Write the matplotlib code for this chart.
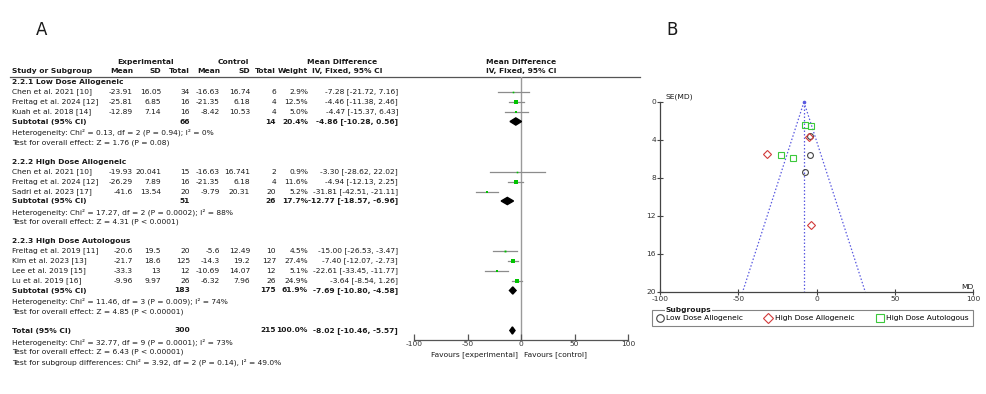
import numpy as np
import matplotlib
matplotlib.use("Agg")
import matplotlib.pyplot as plt

plt.rcParams["axes.unicode_minus"] = False

# ---- data ----
groups = ["2.2.1 Low Dose Allogeneic", "2.2.2 High Dose Allogeneic", "2.2.3 High Dose Autologous"]
studies = [
    ["Chen et al. 2021 [10]", "Freitag et al. 2024 [12]", "Kuah et al. 2018 [14]"],
    ["Chen et al. 2021 [10]", "Freitag et al. 2024 [12]", "Sadri et al. 2023 [17]"],
    ["Freitag et al. 2019 [11]", "Kim et al. 2023 [13]", "Lee et al. 2019 [15]", "Lu et al. 2019 [16]"],
]
exp_mean = [["-23.91", "-25.81", "-12.89"], ["-19.93", "-26.29", "-41.6"], ["-20.6", "-21.7", "-33.3", "-9.96"]]
exp_sd = [["16.05", "6.85", "7.14"], ["20.041", "7.89", "13.54"], ["19.5", "18.6", "13", "9.97"]]
exp_n = [[34, 16, 16], [15, 16, 20], [20, 125, 12, 26]]
ctl_mean = [["-16.63", "-21.35", "-8.42"], ["-16.63", "-21.35", "-9.79"], ["-5.6", "-14.3", "-10.69", "-6.32"]]
ctl_sd = [["16.74", "6.18", "10.53"], ["16.741", "6.18", "20.31"], ["12.49", "19.2", "14.07", "7.96"]]
ctl_n = [[6, 4, 4], [2, 4, 20], [10, 127, 12, 26]]
weight = [[2.9, 12.5, 5.0], [0.9, 11.6, 5.2], [4.5, 27.4, 5.1, 24.9]]
md = [[-7.28, -4.46, -4.47], [-3.30, -4.94, -31.81], [-15.00, -7.40, -22.61, -3.64]]
lo = [[-21.72, -11.38, -15.37], [-28.62, -12.13, -42.51], [-26.53, -12.07, -33.45, -8.54]]
hi = [[7.16, 2.46, 6.43], [22.02, 2.25, -21.11], [-3.47, -2.73, -11.77, 1.26]]

sub_exp_n = [66, 51, 183]
sub_ctl_n = [14, 26, 175]
sub_weight = [20.4, 17.7, 61.9]
sub_md = [-4.86, -12.77, -7.69]
sub_lo = [-10.28, -18.57, -10.80]
sub_hi = [0.56, -6.96, -4.58]
sub_het = ["Heterogeneity: Chi\u00b2 = 0.13, df = 2 (P = 0.94); I\u00b2 = 0%",
           "Heterogeneity: Chi\u00b2 = 17.27, df = 2 (P = 0.0002); I\u00b2 = 88%",
           "Heterogeneity: Chi\u00b2 = 11.46, df = 3 (P = 0.009); I\u00b2 = 74%"]
sub_z = ["Test for overall effect: Z = 1.76 (P = 0.08)",
         "Test for overall effect: Z = 4.31 (P < 0.0001)",
         "Test for overall effect: Z = 4.85 (P < 0.00001)"]

tot_exp_n, tot_ctl_n, tot_weight = 300, 215, 100.0
tot_md, tot_lo, tot_hi = -8.02, -10.46, -5.57
tot_lines = ["Heterogeneity: Chi\u00b2 = 32.77, df = 9 (P = 0.0001); I\u00b2 = 73%",
             "Test for overall effect: Z = 6.43 (P < 0.00001)",
             "Test for subgroup differences: Chi\u00b2 = 3.92, df = 2 (P = 0.14), I\u00b2 = 49.0%"]

# funnel plot: standard errors of each study (same order as above)
se = [[7.37, 3.53, 5.56], [12.92, 3.67, 5.46], [5.88, 2.38, 5.53, 2.50]]
sub_labels = ["Low Dose Allogeneic", "High Dose Allogeneic", "High Dose Autologous"]

# ---- figure ----
W, H = 986, 394
fig = plt.figure(figsize=(W / 100, H / 100), dpi=100)
fs = 5.4
tc = "#1a1a1a"

def fx(px):
    return px / W

def fy(py):
    return 1 - py / H

# overlay axes in pixel coordinates for the table text
ax0 = fig.add_axes([0, 0, 1, 1])
ax0.set_xlim(0, W)
ax0.set_ylim(H, 0)
ax0.axis("off")

def put(x, y, s, ha="left", bold=False, size=fs):
    ax0.text(x, y, s, ha=ha, va="center", fontsize=size, color=tc,
             fontweight="bold" if bold else "normal")

ax0.text(42, 30, "A", ha="center", va="center", fontsize=12, color=tc)
ax0.text(672, 30, "B", ha="center", va="center", fontsize=12, color=tc)

cols = [133, 161, 190, 220, 250, 276, 308, 398]
# header
put(146, 62, "Experimental", ha="center", bold=True)
put(233, 62, "Control", ha="center", bold=True)
put(342, 62, "Mean Difference", ha="center", bold=True)
put(521, 62, "Mean Difference", ha="center", bold=True)
put(12, 70.5, "Study or Subgroup", bold=True)
for c, h in zip(cols[:7], ["Mean", "SD", "Total", "Mean", "SD", "Total", "Weight"]):
    put(c, 70.5, h, ha="right", bold=True)
put(347, 70.5, "IV, Fixed, 95% CI", ha="center", bold=True)
put(521, 70.5, "IV, Fixed, 95% CI", ha="center", bold=True)
ax0.plot([10, 640], [76.5, 76.5], color="#555555", lw=0.9)

# forest axes, y in the same pixel units as ax0
y_top, y_axis = 76.5, 340
ax = fig.add_axes([fx(414), fy(y_axis), fx(628) - fx(414), (y_axis - y_top) / H])
ax.set_xlim(-100, 100)
ax.set_ylim(y_axis, y_top)
ax.patch.set_alpha(0)
for s in ["top", "left", "right"]:
    ax.spines[s].set_visible(False)
ax.spines["bottom"].set_color("#555555")
ax.spines["bottom"].set_linewidth(0.9)
ax.set_yticks([])
ax.set_xticks([-100, -50, 0, 50, 100])
ax.tick_params(axis="x", direction="in", length=4, width=0.9, color="#555555",
               labelsize=fs, labelcolor="#333333", pad=1)
ax.axvline(0, color="#9a9a9a", lw=1.0, zorder=1)

def diamond(y, m, l, h, hh=3.6):
    ax.fill([l, m, h, m], [y, y - hh, y, y + hh], color="black", zorder=3)

fmt = lambda v: "%.2f" % v
y = 82
for g in range(len(groups)):
    put(12, y, groups[g], bold=True)
    y += 10
    for i in range(len(studies[g])):
        put(12, y, studies[g][i])
        vals = [exp_mean[g][i], exp_sd[g][i], str(exp_n[g][i]), ctl_mean[g][i],
                ctl_sd[g][i], str(ctl_n[g][i]), "%.1f%%" % weight[g][i],
                "%s [%s, %s]" % (fmt(md[g][i]), fmt(lo[g][i]), fmt(hi[g][i]))]
        for c, v in zip(cols, vals):
            put(c, y, v, ha="right")
        ax.plot([lo[g][i], hi[g][i]], [y, y], color="#8c8c8c", lw=0.9, zorder=2)
        side = max(1.6, 0.9 * np.sqrt(weight[g][i]))
        ax.plot(md[g][i], y, "s", color="#00c400", ms=side * 0.72, mew=0, zorder=3)
        y += 10
    y -= 0.5
    put(12, y, "Subtotal (95% CI)", bold=True)
    put(cols[2], y, str(sub_exp_n[g]), ha="right", bold=True)
    put(cols[5], y, str(sub_ctl_n[g]), ha="right", bold=True)
    put(cols[6], y, "%.1f%%" % sub_weight[g], ha="right", bold=True)
    put(cols[7], y, "%s [%s, %s]" % (fmt(sub_md[g]), fmt(sub_lo[g]), fmt(sub_hi[g])),
        ha="right", bold=True)
    diamond(y, sub_md[g], sub_lo[g], sub_hi[g])
    y += 11
    put(12, y, sub_het[g])
    y += 10
    put(12, y, sub_z[g])
    y += 19

put(12, y, "Total (95% CI)", bold=True)
put(cols[2], y, str(tot_exp_n), ha="right", bold=True)
put(cols[5], y, str(tot_ctl_n), ha="right", bold=True)
put(cols[6], y, "%.1f%%" % tot_weight, ha="right", bold=True)
put(cols[7], y, "%s [%s, %s]" % (fmt(tot_md), fmt(tot_lo), fmt(tot_hi)), ha="right", bold=True)
diamond(y, tot_md, tot_lo, tot_hi)
y += 11.5
for line in tot_lines:
    put(12, y, line)
    y += 10

put(518, 355, "Favours [experimental]", ha="right")
put(524, 355, "Favours [control]", ha="left")

# ---- funnel plot ----
bx = fig.add_axes([fx(660), fy(292), fx(973) - fx(660), (292 - 102) / H])
bx.set_xlim(-100, 100)
bx.set_ylim(20, 0)
bx.patch.set_alpha(0)
for s in ["top", "right"]:
    bx.spines[s].set_visible(False)
for s in ["left", "bottom"]:
    bx.spines[s].set_color("#444444")
    bx.spines[s].set_linewidth(0.9)
bx.set_xticks([-100, -50, 0, 50, 100])
bx.set_yticks([0, 4, 8, 12, 16, 20])
bx.tick_params(direction="inout", length=4, width=0.8, color="#444444",
               labelsize=fs, labelcolor="#333333", pad=1)

blue = "#5a5ae0"
ymax = 20
dots = (0, (1.2, 1.6))
bx.plot([tot_md, tot_md - 1.96 * ymax], [0, ymax], ls=dots, color=blue, lw=0.9, clip_on=False)
bx.plot([tot_md, tot_md + 1.96 * ymax], [0, ymax], ls=dots, color=blue, lw=0.9, clip_on=False)
bx.plot([tot_md, tot_md], [0, ymax], ls=dots, color=blue, lw=0.9, clip_on=False)
bx.plot(tot_md, 0, "o", color=blue, ms=1.6, clip_on=False)

styles = [("o", "#444444", 4.2), ("D", "#d23a3a", 3.8), ("s", "#3cc83c", 4.2)]
handles = []
for g in range(len(groups)):
    mk, col, ms = styles[g]
    h, = bx.plot(md[g], se[g], mk, mfc="none", mec=col, ms=ms, mew=0.8, ls="none",
                 label=sub_labels[g], clip_on=False)
    handles.append(h)

fig.text(fx(973), fy(287), "MD", ha="right", va="center", fontsize=fs, color=tc)
fig.text(fx(665), fy(97), "SE(MD)", ha="left", va="center", fontsize=fs, color=tc)

leg = fig.legend(handles=handles, loc="center", ncol=3, mode="expand",
                 bbox_to_anchor=(fx(652), fy(326), fx(973) - fx(652), 16 / H),
                 fontsize=fs, frameon=True, fancybox=False, edgecolor="#666666",
                 borderpad=0.6, handlelength=0.9, handletextpad=0.4, borderaxespad=0,
                 markerscale=1.3)
leg.get_frame().set_linewidth(0.8)
fig.text(fx(666), fy(310), "Subgroups", ha="left", va="center", fontsize=fs,
         fontweight="bold", color=tc, zorder=10,
         bbox=dict(facecolor="white", edgecolor="none", pad=0.5))

fig.savefig("out.png", dpi=100)
